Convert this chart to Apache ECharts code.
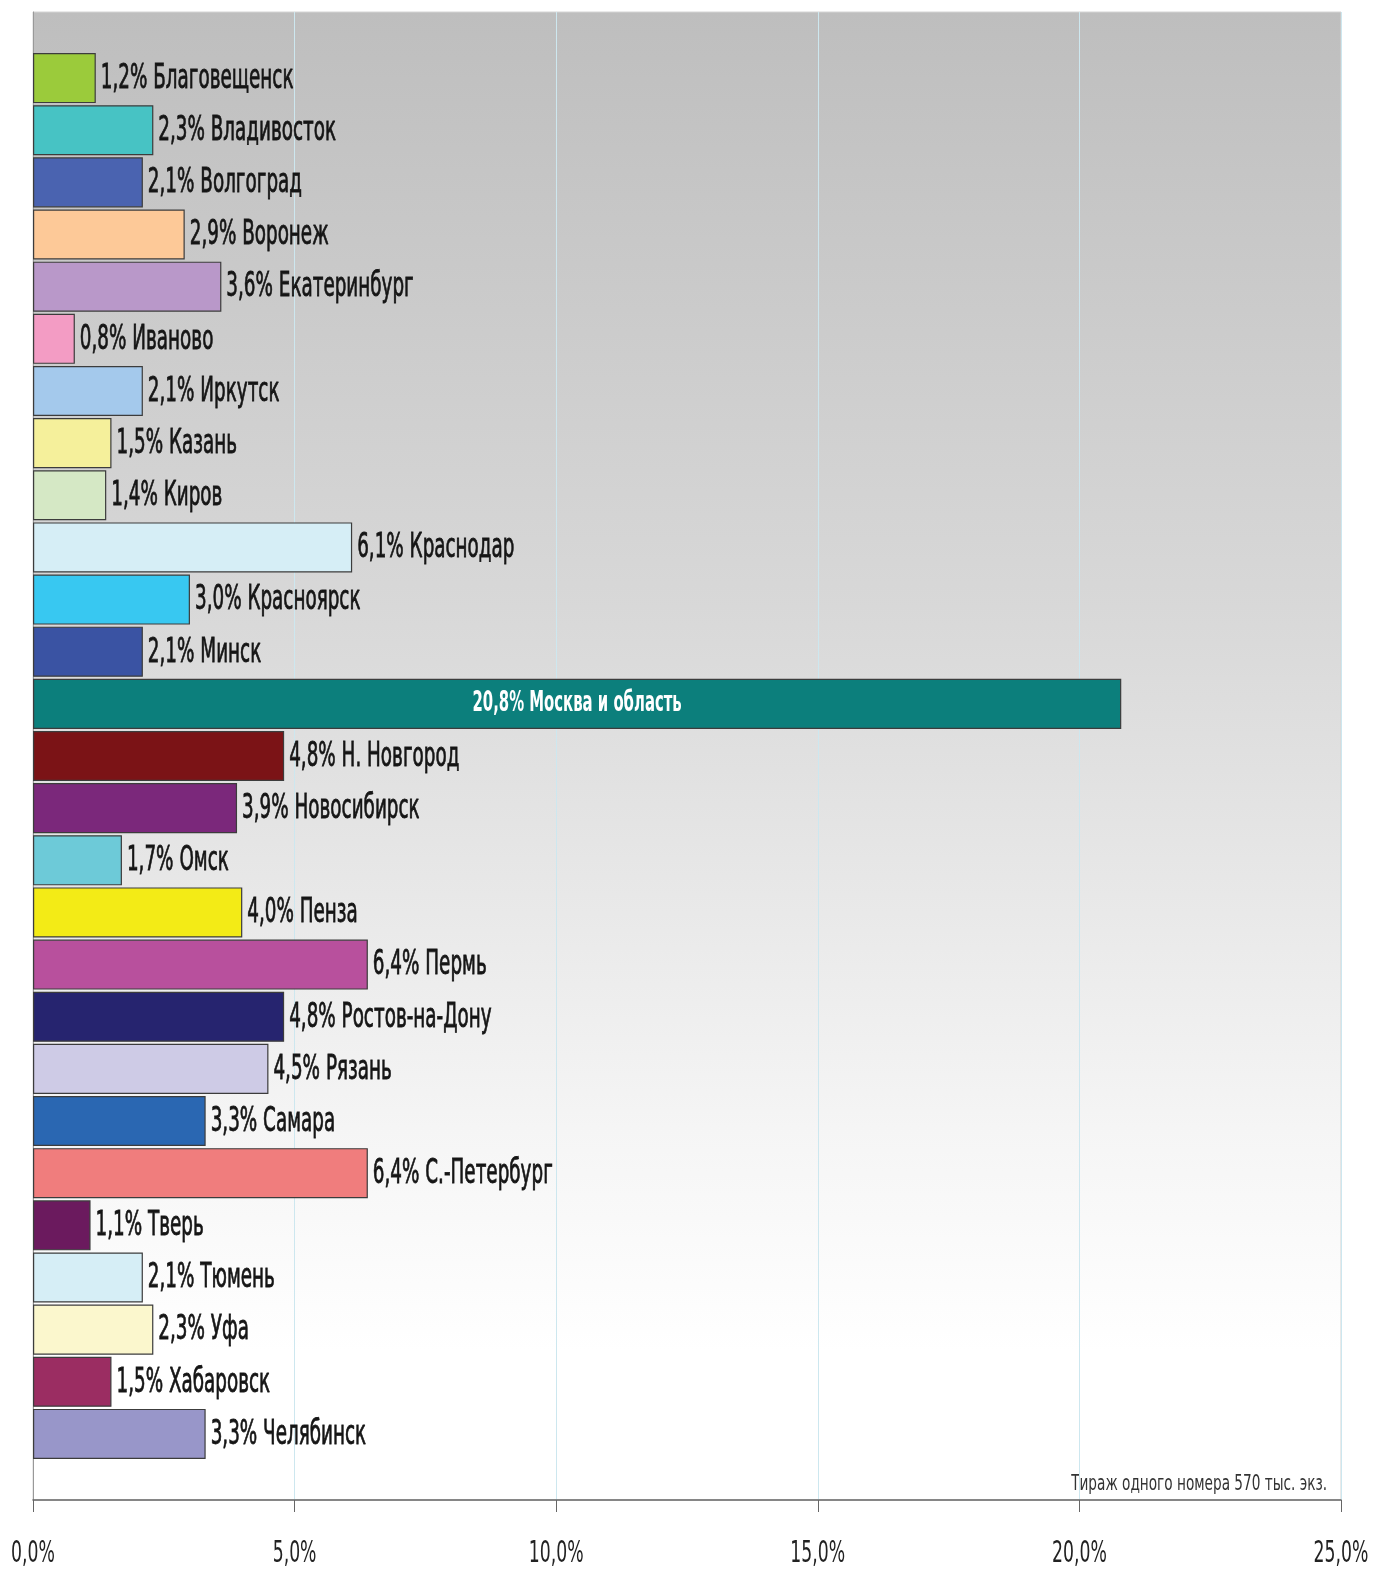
<!DOCTYPE html>
<html>
<head>
<meta charset="utf-8">
<script src="https://cdn.jsdelivr.net/npm/echarts@6/dist/echarts.min.js"></script>
<style>
  html, body { margin: 0; padding: 0; background: #fff; }
  #chart { width: 1373px; height: 1569px; }
</style>
</head>
<body>
<div id="chart"></div>
<script>
// доля тиража по городам, %
var cities = ['Благовещенск', 'Владивосток', 'Волгоград', 'Воронеж', 'Екатеринбург', 'Иваново',
  'Иркутск', 'Казань', 'Киров', 'Краснодар', 'Красноярск', 'Минск', 'Москва и область',
  'Н. Новгород', 'Новосибирск', 'Омск', 'Пенза', 'Пермь', 'Ростов-на-Дону', 'Рязань',
  'Самара', 'С.-Петербург', 'Тверь', 'Тюмень', 'Уфа', 'Хабаровск', 'Челябинск'];
var shares = [1.2, 2.3, 2.1, 2.9, 3.6, 0.8, 2.1, 1.5, 1.4, 6.1, 3.0, 2.1, 20.8,
  4.8, 3.9, 1.7, 4.0, 6.4, 4.8, 4.5, 3.3, 6.4, 1.1, 2.1, 2.3, 1.5, 3.3];
var barColors = ['#9bcb3b', '#47c3c4', '#4a63b0', '#fdc998', '#b998c9', '#f39cc4',
  '#a4c9ec', '#f5f09b', '#d5e8c5', '#d6eef6', '#38c8f1', '#3a53a3', '#0c7f7c',
  '#7b1316', '#7b287b', '#6dcad8', '#f3eb16', '#b8509d', '#26246f', '#cecbe6',
  '#2a67b2', '#f07d7d', '#6b1a5e', '#d6eef6', '#fbf7cd', '#9b2d62', '#9896c9'];
var tickValues = [0, 5, 10, 15, 20, 25];
var note = 'Тираж одного номера 570 тыс. экз.';

// узкого шрифта нет — сжимаем DejaVu Sans Condensed по горизонтали
var fontNarrow = '"DejaVu Sans Condensed", "Liberation Sans Narrow", sans-serif';

function pct(v) {
  return v.toFixed(1).replace('.', ',') + '%';
}

var chart = echarts.init(document.getElementById('chart'));

var barData = shares.map(function (v, i) {
  return { value: v, itemStyle: { color: barColors[i] } };
});

var labelData = shares.map(function (v, i) { return [v, i]; });

var option = {
  animation: false,
  backgroundColor: '#ffffff',
  grid: [
    { // рамка с фоном
      left: 33, right: 32, top: 12, bottom: 69,
      outerBoundsMode: 'none',
      containLabel: false,
      show: true,
      borderWidth: 1,
      borderColor: '#d4d4d4',
      backgroundColor: new echarts.graphic.LinearGradient(0, 0, 0, 1, [
        { offset: 0, color: '#bebebe' },
        { offset: 0.4, color: '#d8d8d8' },
        { offset: 0.75, color: '#f5f5f5' },
        { offset: 0.9, color: '#ffffff' },
        { offset: 1, color: '#ffffff' }
      ])
    },
    { // столбцы
      left: 33, right: 32, top: 52, bottom: 109,
      outerBoundsMode: 'none',
      containLabel: false
    }
  ],
  xAxis: [
    {
      gridIndex: 0,
      type: 'value',
      min: 0, max: 25, interval: 5,
      axisLine: { show: true, lineStyle: { color: '#666', width: 1.5 } },
      axisTick: { show: true, length: 12, lineStyle: { color: '#666' } },
      splitLine: { show: true, lineStyle: { color: '#cde7ef', width: 1 } },
      axisLabel: { show: false }
    },
    {
      gridIndex: 1,
      type: 'value',
      min: 0, max: 25,
      show: false
    }
  ],
  yAxis: [
    {
      gridIndex: 0,
      type: 'value',
      min: 0, max: 1,
      axisLine: { show: true, lineStyle: { color: '#999' } },
      axisTick: { show: false },
      axisLabel: { show: false },
      splitLine: { show: false }
    },
    {
      gridIndex: 1,
      type: 'category',
      inverse: true,
      data: cities,
      show: false
    }
  ],
  graphic: [{
    type: 'text',
    x: 1327,
    y: 1484,
    scaleX: 0.69,
    style: {
      text: note,
      font: '22px ' + fontNarrow,
      fill: '#333',
      align: 'right',
      verticalAlign: 'middle'
    }
  }],
  series: [
    {
      type: 'bar',
      xAxisIndex: 1,
      yAxisIndex: 1,
      barWidth: '96%',
      data: barData,
      itemStyle: { borderColor: '#3c3c3c', borderWidth: 1.2 }
    },
    { // подписи столбцов
      type: 'custom',
      xAxisIndex: 1,
      yAxisIndex: 1,
      data: labelData,
      encode: { x: 0, y: 1 },
      z: 5,
      renderItem: function (params, api) {
        var v = api.value(0);
        var idx = api.value(1);
        var text = pct(v) + ' ' + cities[idx];
        if (v > 15) {
          var c = api.coord([v / 2, idx]);
          return {
            type: 'text', x: c[0], y: c[1], scaleX: 0.57,
            style: { text: text, font: 'bold 29px ' + fontNarrow, fill: '#ffffff', align: 'center', verticalAlign: 'middle' }
          };
        }
        var p = api.coord([v, idx]);
        return {
          type: 'text', x: p[0] + 5, y: p[1] + 1, scaleX: 0.6,
          style: {
            text: text, font: '34px ' + fontNarrow, fill: '#151515',
            stroke: '#151515', lineWidth: 0.8,
            align: 'left', verticalAlign: 'middle'
          }
        };
      }
    },
    { // подписи оси X
      type: 'custom',
      xAxisIndex: 0,
      yAxisIndex: 0,
      data: tickValues.map(function (t) { return [t, 0]; }),
      encode: { x: 0, y: 1 },
      renderItem: function (params, api) {
        var t = api.value(0);
        var p = api.coord([t, 0]);
        return {
          type: 'text', x: p[0], y: p[1] + 54, scaleX: 0.64,
          style: { text: pct(t), font: '30px ' + fontNarrow, fill: '#222', align: 'center', verticalAlign: 'middle' }
        };
      }
    }
  ]
};

chart.setOption(option);
</script>
</body>
</html>
